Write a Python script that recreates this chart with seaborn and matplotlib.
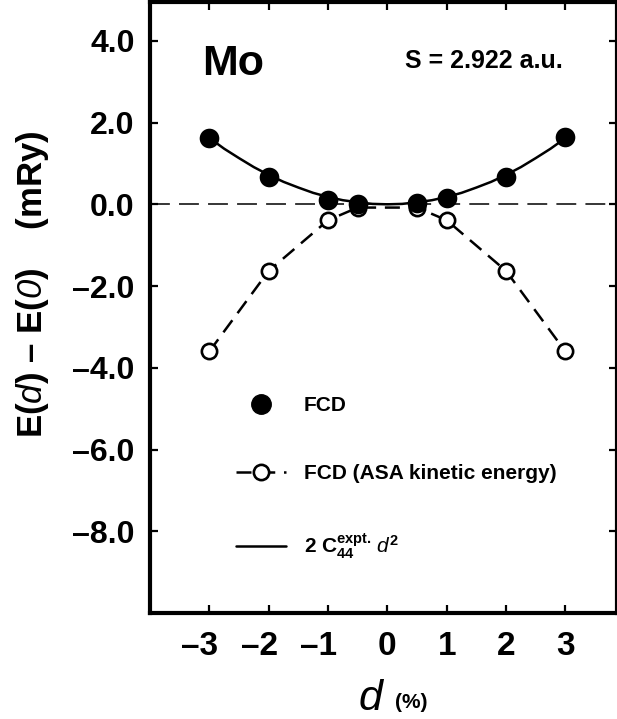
import matplotlib
matplotlib.use("Agg")
import matplotlib.pyplot as plt
import seaborn as sns
import pandas as pd
from matplotlib.lines import Line2D

# ---- data ----
d_fcd = [-3, -2, -1, -0.5, 0.5, 1, 2, 3]
e_fcd = [1.62, 0.67, 0.11, 0.0, 0.02, 0.15, 0.67, 1.65]

d_asa = [-3, -2, -1, -0.5, 0.5, 1, 2, 3]
e_asa = [-3.60, -1.63, -0.39, -0.08, -0.08, -0.39, -1.63, -3.60]

d_fit = [-3.1, -2.75, -2.5, -2.25, -2.0, -1.75, -1.5, -1.25, -1.0, -0.75, -0.5, -0.25, 0.0,
         0.25, 0.5, 0.75, 1.0, 1.25, 1.5, 1.75, 2.0, 2.25, 2.5, 2.75, 3.0]
e_fit = [1.73, 1.36, 1.13, 0.91, 0.72, 0.55, 0.41, 0.28, 0.18, 0.10, 0.05, 0.01, 0.0,
         0.01, 0.05, 0.10, 0.18, 0.28, 0.41, 0.55, 0.72, 0.91, 1.13, 1.36, 1.62]

x_ticks = [-3, -2, -1, 0, 1, 2, 3]
x_tick_labels = ["\u20133\u2007", "\u20132\u2007", "\u20131\u2007", "0", "1", "2", "3"]
y_ticks = [4, 2, 0, -2, -4, -6, -8]
y_tick_labels = ["4.0", "2.0", "0.0", "\u20132.0", "\u20134.0", "\u20136.0", "\u20138.0"]

label_fcd = "FCD"
label_asa = "FCD (ASA kinetic energy)"
label_fit = r"2 $\mathbf{C}_{\mathbf{44}}^{\mathbf{expt.}}\,\mathit{d}^{\mathbf{2}}$"
y_title = "E($\\mathit{d}$) \u2013 E($\\mathsf{0}$)    (mRy)"

# ---- style ----
sns.set_theme(style="ticks")
plt.rcParams["font.family"] = ["Liberation Sans", "DejaVu Sans"]
plt.rcParams["font.weight"] = "bold"
plt.rcParams["text.color"] = "black"
plt.rcParams["axes.labelcolor"] = "black"
plt.rcParams["xtick.color"] = "black"
plt.rcParams["ytick.color"] = "black"
plt.rcParams["mathtext.fontset"] = "custom"
plt.rcParams["mathtext.rm"] = "Liberation Sans:weight=bold"
plt.rcParams["mathtext.bf"] = "Liberation Sans:weight=bold"
plt.rcParams["mathtext.it"] = "Liberation Sans:style=italic:weight=normal"
plt.rcParams["mathtext.sf"] = "Liberation Sans:style=italic:weight=normal"

W, H = 617, 719
fig = plt.figure(figsize=(W / 100, H / 100), dpi=100)
fig.patch.set_facecolor("white")
L, R, T, B = 150, 617, 2, 613
ax = fig.add_axes([L / W, 1 - B / H, (R - L) / W, (B - T) / H])
ax.set_facecolor("white")

df_fit = pd.DataFrame({"d": d_fit, "E": e_fit})
df_fcd = pd.DataFrame({"d": d_fcd, "E": e_fcd})
df_asa = pd.DataFrame({"d": d_asa, "E": e_asa})

ax.axhline(0, color="black", lw=1.1, dashes=(13, 6), zorder=1)

sns.lineplot(data=df_asa, x="d", y="E", ax=ax, color="black", lw=1.8,
             marker="o", markersize=11, markerfacecolor="white",
             markeredgecolor="black", markeredgewidth=1.9, zorder=2,
             estimator=None, sort=False)
ax.lines[-1].set_dashes((6, 3.5))

sns.lineplot(data=df_fit, x="d", y="E", ax=ax, color="black", lw=1.8,
             zorder=3, estimator=None, sort=False)

sns.scatterplot(data=df_fcd, x="d", y="E", ax=ax, color="black", s=200,
                edgecolor="black", linewidth=0, zorder=4)

ax.set_xlim(-4.0, 3.87)
ax.set_ylim(-10.0, 4.95)
ax.set_xticks(x_ticks)
ax.set_xticklabels(x_tick_labels, fontsize=24, fontweight="bold")
ax.set_yticks(y_ticks)
ax.set_yticklabels(y_tick_labels, fontsize=23, fontweight="bold")
ax.tick_params(axis="both", direction="in", length=6, width=1.6,
               top=True, right=True, colors="black")
ax.tick_params(axis="x", pad=13)
ax.tick_params(axis="y", pad=11)
for s in ax.spines.values():
    s.set_linewidth(3)
    s.set_color("black")
ax.set_xlabel("")
ax.set_ylabel("")

# axis titles
fig.text(33 / W, 1 - 284 / H, y_title, rotation=90, ha="center", va="center",
         fontsize=25, fontweight="bold")
fig.text(382 / W, 1 - 710 / H, "d", ha="right", va="baseline", fontsize=31,
         fontstyle="italic", fontweight="normal")
fig.text(395 / W, 1 - 708 / H, "(%)", ha="left", va="baseline", fontsize=15, fontweight="bold")

# annotations
ax.text((202 - L) / (R - L), (B - 75) / (B - T), "Mo", transform=ax.transAxes,
        fontsize=31, fontweight="bold", ha="left", va="baseline")
ax.text((405 - L) / (R - L), (B - 68) / (B - T), "S = 2.922 a.u.", transform=ax.transAxes,
        fontsize=18, fontweight="bold", ha="left", va="baseline")

# legend
handles = [
    Line2D([], [], ls="none", marker="o", color="black", markersize=14),
    Line2D([], [], color="black", lw=1.8, dashes=(6, 3.5), marker="o", markersize=11,
           markerfacecolor="white", markeredgecolor="black", markeredgewidth=1.9),
    Line2D([], [], color="black", lw=1.8),
]
leg = ax.legend(handles, [label_fcd, label_asa, label_fit], loc="upper left",
                bbox_to_anchor=((236 - L) / (R - L), (B - 396) / (B - T)),
                frameon=False, prop={"weight": "bold", "size": 15},
                handlelength=2.4, handletextpad=0.85, labelspacing=2.35,
                borderpad=0, borderaxespad=0)
for t in leg.get_texts():
    t.set_color("black")

fig.savefig("out.png", dpi=100, facecolor="white")
